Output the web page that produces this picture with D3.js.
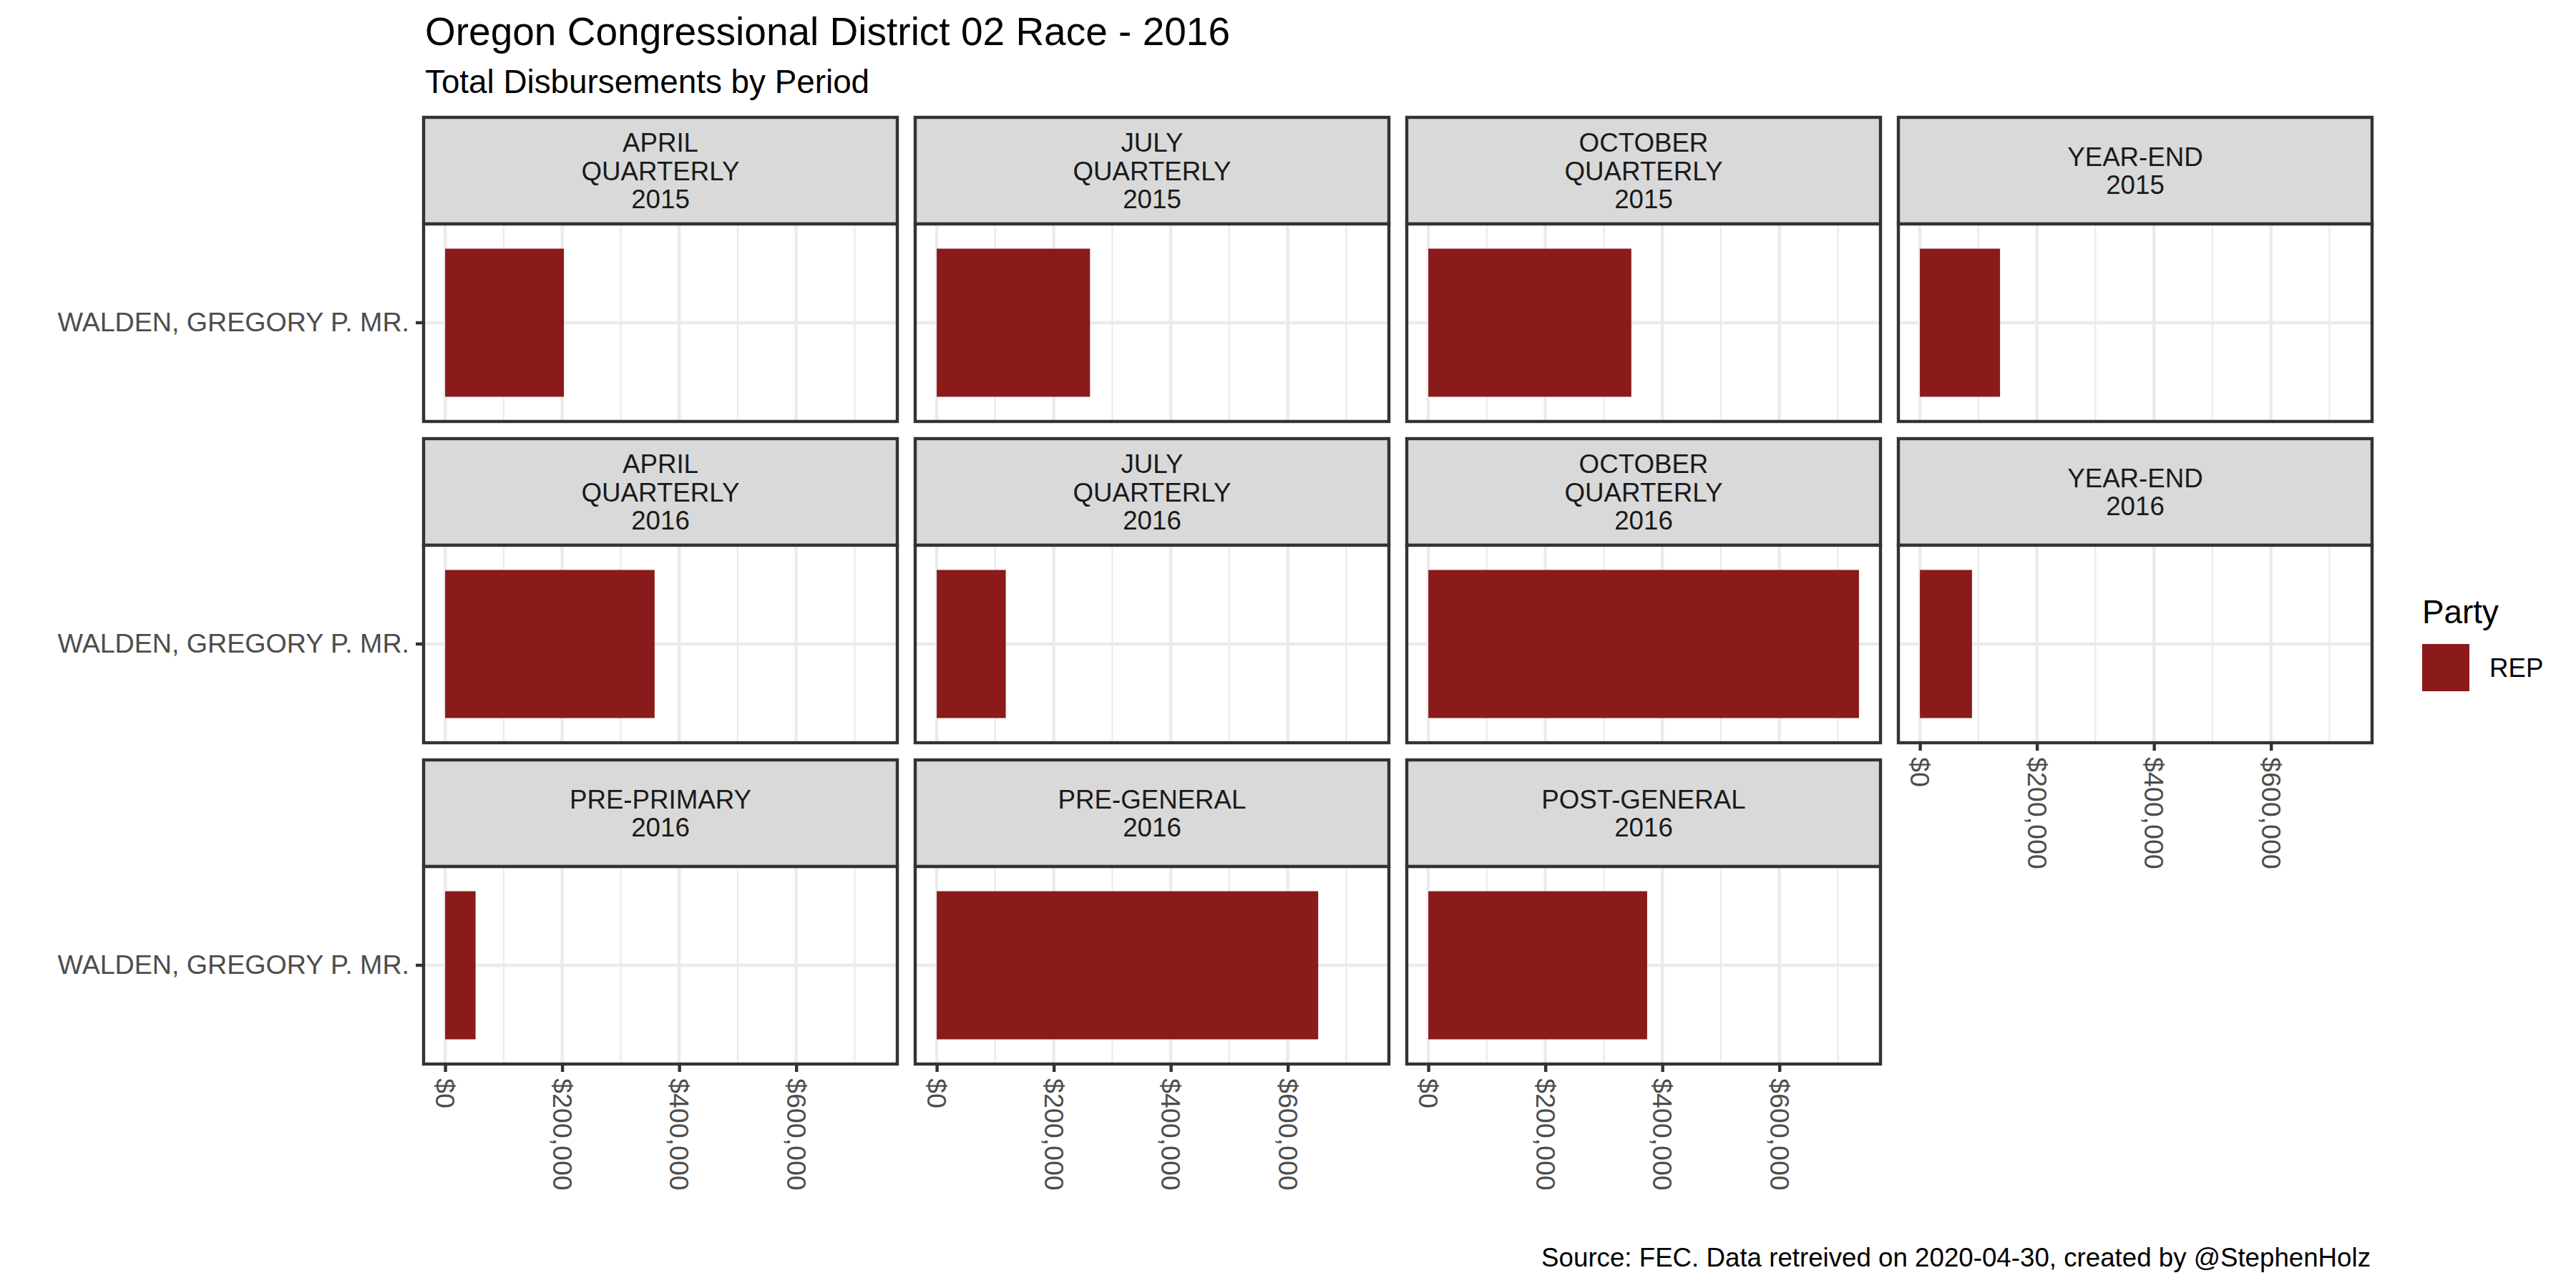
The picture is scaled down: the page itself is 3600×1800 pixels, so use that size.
<!DOCTYPE html>
<html>
<head>
<meta charset="utf-8">
<script src="https://cdn.jsdelivr.net/npm/d3@7"></script>
<style>
  body { margin: 0; background: #fff; }
  text { font-family: "Liberation Sans", Arial, sans-serif; }
</style>
</head>
<body>
<div id="chart"></div>
<script>
// chart values
var periods = [
  "APRIL\nQUARTERLY\n2015", "JULY\nQUARTERLY\n2015", "OCTOBER\nQUARTERLY\n2015", "YEAR-END\n2015",
  "APRIL\nQUARTERLY\n2016", "JULY\nQUARTERLY\n2016", "OCTOBER\nQUARTERLY\n2016", "YEAR-END\n2016",
  "PRE-PRIMARY\n2016", "PRE-GENERAL\n2016", "POST-GENERAL\n2016"
];
var candidates = ["WALDEN, GREGORY P. MR."];
var disbursements = [203000, 262000, 347000, 137000, 358000, 118000, 736000, 89000, 52000, 652000, 374000];
var parties = ["REP"];
var partyColors = ["#8B1A1A"];
var xTicks = [0, 200000, 400000, 600000];
var minorTicks = [100000, 300000, 500000, 700000];

function init()
{
    var w = 3600, h = 1800;
    var ncol = 4;
    var panelLeft = 592, panelW = 662, colStep = 687;
    var stripTop = 164, stripH = 149, panelH = 276, rowStep = 449;
    var lw = 4.4;
    var axisSize = 37.6;

    var svg = d3.select("#chart").append("svg")
        .attr("width", w)
        .attr("height", h);

    svg.append("rect").attr("width", w).attr("height", h).attr("fill", "#fff");

    var data = periods.map(function(p, i) {
        return { period: p, candidate: candidates[0], value: disbursements[i], party: parties[0] };
    });

    // shared scales (fixed across facets), ggplot-like 5% expansion
    var maxV = d3.max(data, function(d) { return d.value; });
    var x = d3.scaleLinear()
        .domain([-0.05 * maxV, 1.05 * maxV])
        .range([0, panelW]);

    var y = d3.scaleBand()
        .domain(candidates)
        .range([0, panelH])
        .paddingInner(0.1)
        .paddingOuter(0.15);

    var color = d3.scaleOrdinal().domain(parties).range(partyColors);

    var fmt = function(v) { return "$" + d3.format(",")(v); };

    data.forEach(function(d, i) {
        var col = i % ncol, row = Math.floor(i / ncol);
        var px = panelLeft + col * colStep;
        var sy = stripTop + row * rowStep;
        var py = sy + stripH;

        // strip
        var strip = svg.append("g").attr("transform", "translate(" + px + "," + sy + ")");
        strip.append("rect")
            .attr("width", panelW).attr("height", stripH)
            .attr("fill", "#D9D9D9")
            .attr("stroke", "#333333").attr("stroke-width", lw);
        var lines = d.period.split("\n");
        var lh = 39.5;
        strip.append("text")
            .attr("text-anchor", "middle")
            .attr("font-size", 36.7)
            .attr("fill", "#1A1A1A")
            .selectAll("tspan")
            .data(lines)
            .enter().append("tspan")
            .attr("x", panelW / 2)
            .attr("y", function(l, k) { return stripH / 2 + 13 + (k - (lines.length - 1) / 2) * lh; })
            .text(function(l) { return l; });

        // panel
        var g = svg.append("g").attr("transform", "translate(" + px + "," + py + ")");
        g.append("rect").attr("width", panelW).attr("height", panelH).attr("fill", "#fff");

        g.selectAll(".minor").data(minorTicks).enter().append("line")
            .attr("x1", function(t) { return x(t); }).attr("x2", function(t) { return x(t); })
            .attr("y1", 0).attr("y2", panelH)
            .attr("stroke", "#EBEBEB").attr("stroke-width", lw / 2);

        g.selectAll(".major").data(xTicks).enter().append("line")
            .attr("x1", function(t) { return x(t); }).attr("x2", function(t) { return x(t); })
            .attr("y1", 0).attr("y2", panelH)
            .attr("stroke", "#EBEBEB").attr("stroke-width", lw);

        g.selectAll(".hmajor").data(candidates).enter().append("line")
            .attr("x1", 0).attr("x2", panelW)
            .attr("y1", function(c) { return y(c) + y.bandwidth() / 2; })
            .attr("y2", function(c) { return y(c) + y.bandwidth() / 2; })
            .attr("stroke", "#EBEBEB").attr("stroke-width", lw);

        g.append("rect")
            .attr("x", x(0))
            .attr("y", y(d.candidate))
            .attr("width", x(d.value) - x(0))
            .attr("height", y.bandwidth())
            .attr("fill", color(d.party));

        g.append("rect").attr("width", panelW).attr("height", panelH)
            .attr("fill", "none").attr("stroke", "#333333").attr("stroke-width", lw);

        // y axis on first column
        if (col === 0) {
            var ya = g.append("g").call(d3.axisLeft(y).tickSize(11).tickPadding(9));
            ya.select(".domain").remove();
            ya.selectAll("line").attr("stroke", "#333333").attr("stroke-width", lw);
            ya.selectAll("text").attr("font-size", axisSize).attr("fill", "#4D4D4D")
                .attr("font-family", "Liberation Sans, Arial, sans-serif");
        }

        // x axis on bottom panel of each column
        if (i + ncol >= data.length) {
            var xa = g.append("g")
                .attr("transform", "translate(0," + panelH + ")")
                .call(d3.axisBottom(x).tickValues(xTicks).tickFormat(fmt).tickSize(11));
            xa.select(".domain").remove();
            xa.selectAll("line").attr("stroke", "#333333").attr("stroke-width", lw);
            xa.selectAll("text")
                .attr("font-size", axisSize).attr("fill", "#4D4D4D")
                .attr("font-family", "Liberation Sans, Arial, sans-serif")
                .attr("y", 0).attr("x", 20).attr("dy", "0.35em")
                .attr("transform", "rotate(90)")
                .style("text-anchor", "start");
        }
    });

    // titles
    svg.append("text").attr("x", 594).attr("y", 63)
        .attr("font-size", 55).attr("fill", "#000")
        .text("Oregon Congressional District 02 Race - 2016");
    svg.append("text").attr("x", 594).attr("y", 130)
        .attr("font-size", 45.8).attr("fill", "#000")
        .text("Total Disbursements by Period");

    // legend
    var leg = svg.append("g").attr("transform", "translate(3385,0)");
    leg.append("text").attr("x", 0).attr("y", 871)
        .attr("font-size", 45.8).attr("fill", "#000").text("Party");
    leg.selectAll(".key").data(parties).enter().append("rect")
        .attr("x", 0).attr("y", function(p, k) { return 900 + k * 66; })
        .attr("width", 66).attr("height", 66)
        .attr("fill", function(p) { return color(p); });
    leg.selectAll(".lab").data(parties).enter().append("text")
        .attr("x", 94).attr("y", function(p, k) { return 946 + k * 66; })
        .attr("font-size", 36.7).attr("fill", "#000")
        .text(function(p) { return p; });

    // caption
    svg.append("text").attr("x", 3313).attr("y", 1770)
        .attr("text-anchor", "end")
        .attr("font-size", 36.7).attr("fill", "#000")
        .text("Source: FEC. Data retreived on 2020-04-30, created by @StephenHolz");
}

window.onload = init;
</script>
</body>
</html>
